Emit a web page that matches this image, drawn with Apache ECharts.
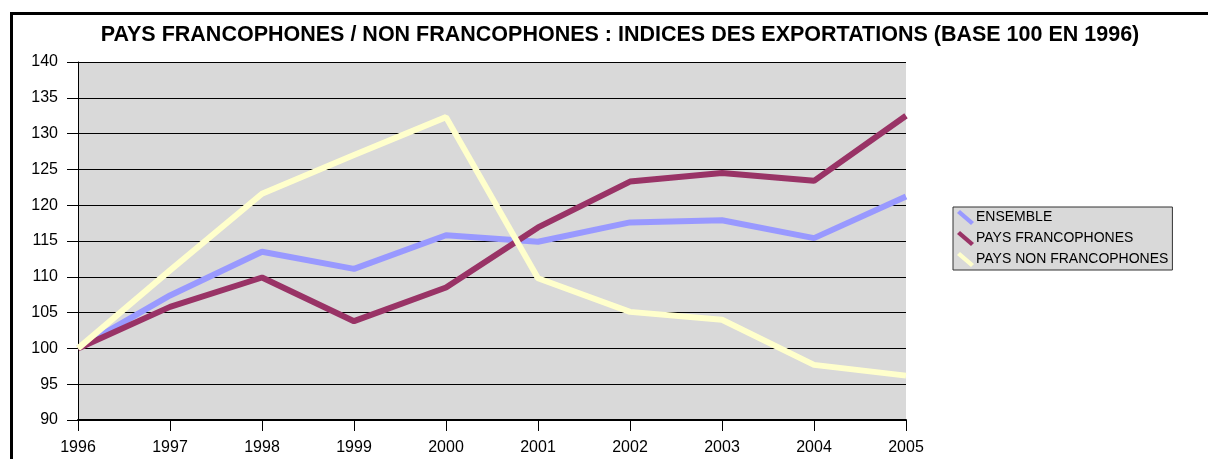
<!DOCTYPE html>
<html>
<head>
<meta charset="utf-8">
<script src="https://cdn.jsdelivr.net/npm/echarts@6/dist/echarts.min.js"></script>
<style>
html, body { margin: 0; padding: 0; background: #fff; }
#chart { width: 1208px; height: 459px; }
</style>
</head>
<body>
<div id="chart"></div>
<script>
// années et indices (base 100 en 1996)
var years = ['1996', '1997', '1998', '1999', '2000', '2001', '2002', '2003', '2004', '2005'];
var ensemble = [100, 107.4, 113.5, 111.1, 115.8, 114.9, 117.6, 117.9, 115.4, 121.2];
var paysFrancophones = [100, 105.8, 109.9, 103.8, 108.5, 116.9, 123.3, 124.5, 123.4, 132.5];
var paysNonFrancophones = [100, 110.9, 121.6, 127.0, 132.3, 109.8, 105.1, 104.0, 97.7, 96.2];
var seriesNames = ['ENSEMBLE', 'PAYS FRANCOPHONES', 'PAYS NON FRANCOPHONES'];

var myChart = echarts.init(document.getElementById('chart'));
var font = 'Liberation Sans, Arial, sans-serif';
var legendIcon = 'path://M0,3 L3,0 L17,12 L14,15 Z';

myChart.setOption({
    animation: false,
    textStyle: { fontFamily: font },
    graphic: [
        {
            type: 'rect',
            shape: { x: 11.5, y: 13.5, width: 1400, height: 600 },
            style: { fill: 'none', stroke: '#000', lineWidth: 3 },
            silent: true
        }
    ],
    title: {
        text: 'PAYS FRANCOPHONES / NON FRANCOPHONES : INDICES DES EXPORTATIONS (BASE 100 EN 1996)',
        left: 615,
        textAlign: 'center',
        top: 19,
        textStyle: { fontSize: 21.5, fontWeight: 'bold', color: '#000', fontFamily: font }
    },
    legend: {
        orient: 'vertical',
        left: 953,
        top: 207,
        data: seriesNames,
        icon: legendIcon,
        itemWidth: 17,
        itemHeight: 15,
        itemGap: 6,
        padding: [3, 4, 3, 4],
        backgroundColor: '#d9d9d9',
        borderColor: '#333',
        borderWidth: 1,
        textStyle: { fontSize: 14, color: '#000', fontFamily: font, padding: [0, 0, 0, -3] }
    },
    grid: {
        left: 78,
        right: 302,
        top: 62,
        bottom: 39,
        show: true,
        backgroundColor: '#d9d9d9',
        borderWidth: 0
    },
    xAxis: {
        type: 'category',
        data: years,
        boundaryGap: false,
        axisLine: { lineStyle: { color: '#000', width: 2 } },
        axisTick: { show: true, length: 11, lineStyle: { color: '#000' } },
        axisLabel: { fontSize: 16, color: '#000', margin: 20, fontFamily: font },
        splitLine: { show: false }
    },
    yAxis: {
        type: 'value',
        min: 90,
        max: 140,
        interval: 5,
        axisLine: { show: true, lineStyle: { color: '#000', width: 1 } },
        axisTick: { show: true, length: 11, lineStyle: { color: '#000' } },
        axisLabel: { fontSize: 16, color: '#000', margin: 20, fontFamily: font },
        splitLine: { show: true, lineStyle: { color: '#000', width: 1 } }
    },
    series: [
        {
            name: seriesNames[0],
            type: 'line',
            data: ensemble,
            symbol: 'none',
            color: '#9999ff',
            lineStyle: { width: 6, color: '#9999ff' }
        },
        {
            name: seriesNames[1],
            type: 'line',
            data: paysFrancophones,
            symbol: 'none',
            color: '#993366',
            lineStyle: { width: 6, color: '#993366' }
        },
        {
            name: seriesNames[2],
            type: 'line',
            data: paysNonFrancophones,
            symbol: 'none',
            color: '#ffffcc',
            lineStyle: { width: 6, color: '#ffffcc' }
        }
    ]
});
</script>
</body>
</html>
